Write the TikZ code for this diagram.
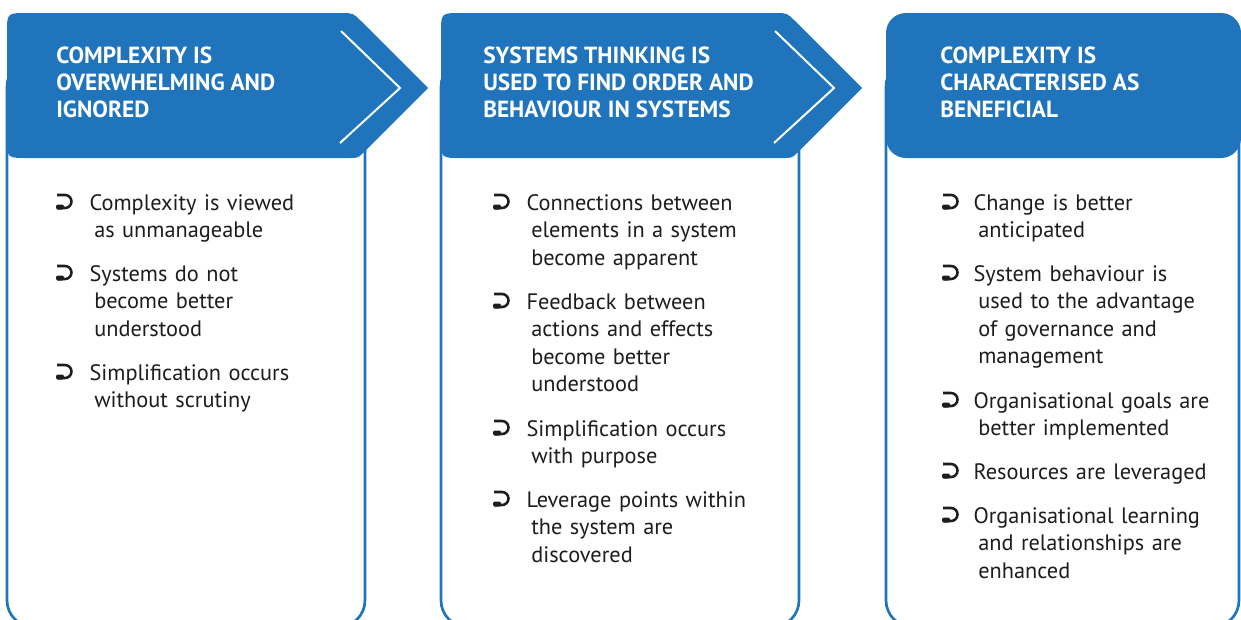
\documentclass[tikz,border=0pt]{standalone}
\usepackage{fontspec}
\setmainfont{PT Sans}
\definecolor{hblue}{RGB}{31,116,188}
\definecolor{ink}{RGB}{30,28,30}
\tikzset{
  panelline/.style={draw=hblue, line width=2pt, rounded corners=20pt},
  headfill/.style={fill=hblue},
  chevline/.style={draw=white, line width=1.5pt},
  headtext/.style={text=white, font=\bfseries\fontsize{17.5}{20.25}\selectfont, anchor=north west, inner sep=0pt, align=left},
  bodytext/.style={text=ink, font=\fontsize{16.75}{20.625}\selectfont, anchor=north west, inner sep=0pt, text width=300pt, align=left},
  hookb/.style={draw=ink, line width=1.9pt},
  hookfill/.style={fill=ink}
}
\newcommand\bitem[5]{%
  \draw[hookb] (#2,#4-15) -- (#2+8,#4-15) arc[start angle=-90,end angle=90,radius=6.5] -- (#2,#4-2);
  \fill[hookfill, rounded corners=1.5pt] (#2-1,#4-5.5) rectangle (#2+7,#4-0.5);
  \node[bodytext] (#1) at (#3+4,#4-18) {\rule{0pt}{13.5pt}\hspace*{-3.5pt}#5};
}
\begin{document}
\begin{tikzpicture}[x=0.75pt,y=-0.75pt]
\useasboundingbox (0,0) rectangle (1241,619);
\clip (0,0) rectangle (1241,619);
% panel outlines
\draw[panelline] (7,60) rectangle (365,627);
\draw[panelline] (441,60) rectangle (799,627);
\draw[panelline] (886,60) rectangle (1239,627);
% headers
\foreach \dx in {0,434}{
  \begin{scope}[shift={(\dx,0)}]
    \fill[headfill] (7,138) -- (7,33) .. controls (7,13) .. (27,13) -- (341,13)
      .. controls (353,13) .. (361,21) -- (428,88) -- (363,153)
      .. controls (358,158) .. (348,158) -- (27,158) .. controls (7,158) .. (7,138) -- cycle;
    \draw[chevline] (341,31) -- (400,88) -- (340,143);
  \end{scope}
}
\fill[headfill, rounded corners=15pt] (886,13) rectangle (1241,158);
% header texts
\node[headtext] (h1) at (56,45) {\rule{0pt}{13.5pt}COMPLEXITY IS\\OVERWHELMING AND\\IGNORED};
\node[headtext] (h2) at (483,45) {\rule{0pt}{13.5pt}SYSTEMS THINKING IS\\USED TO FIND ORDER AND\\BEHAVIOUR IN SYSTEMS};
\node[headtext] (h3) at (940,45) {\rule{0pt}{13.5pt}COMPLEXITY IS\\CHARACTERISED AS\\BENEFICIAL};
% panel 1 items
\bitem{a1}{57}{90}{210}{Complexity is viewed\\as unmanageable}
\bitem{a2}{57}{90}{281}{Systems do not\\become better\\understood}
\bitem{a3}{57}{90}{380}{Simplification occurs\\without scrutiny}
% panel 2 items
\bitem{b1}{494}{527}{210}{Connections between\\elements in a system\\become apparent}
\bitem{b2}{494}{527}{309}{Feedback between\\actions and effects\\become better\\understood}
\bitem{b3}{494}{527}{436}{Simplification occurs\\with purpose}
\bitem{b4}{494}{527}{507}{Leverage points within\\the system are\\discovered}
% panel 3 items
\bitem{c1}{943}{974}{210}{Change is better\\anticipated}
\bitem{c2}{943}{974}{281}{System behaviour is\\used to the advantage\\of governance and\\management}
\bitem{c3}{943}{974}{408}{Organisational goals are\\better implemented}
\bitem{c4}{943}{974}{479}{Resources are leveraged}
\bitem{c5}{943}{974}{523}{Organisational learning\\and relationships are\\enhanced}
\end{tikzpicture}
\end{document}
